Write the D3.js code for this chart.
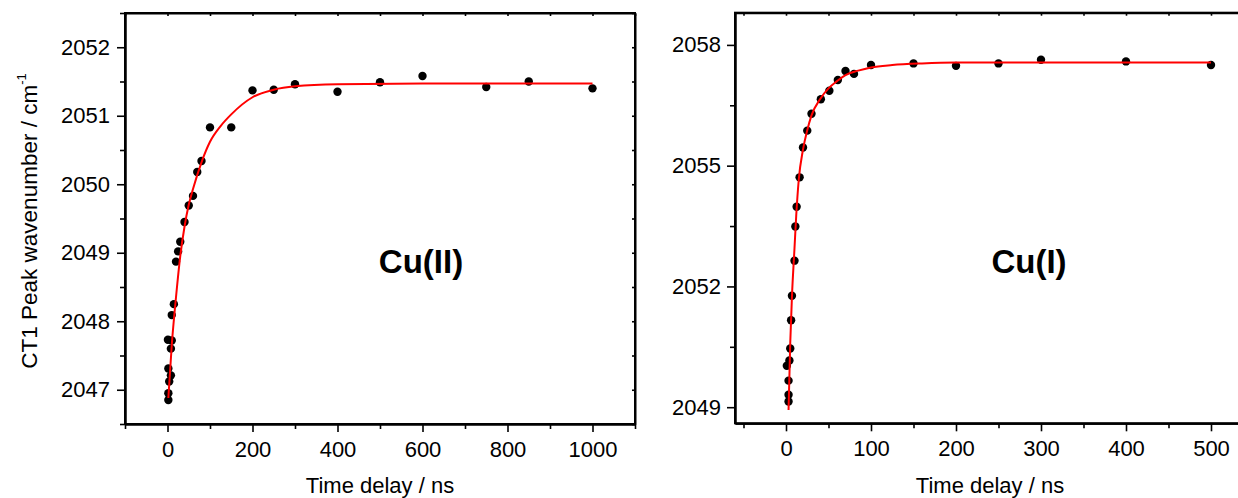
<!DOCTYPE html>
<html>
<head>
<meta charset="utf-8">
<script src="https://cdn.jsdelivr.net/npm/d3@7"></script>
<style>
  body { margin: 0; background: #fff; }
  svg { display: block; font-family: "Liberation Sans", Arial, sans-serif; }
  .axis path, .axis line { stroke: #000; }
</style>
</head>
<body>
<svg width="1238" height="498"></svg>
<script>
// Cu(II) panel
var leftTimes = [2, 2, 4, 8, 2, 1, 10, 8, 10, 15, 20, 25, 30, 40, 50, 60, 70, 80, 100, 150, 200, 250, 300, 400, 500, 600, 750, 850, 1000];
var leftPeaks = [2046.85, 2046.95, 2047.12, 2047.21, 2047.31, 2047.73, 2047.72, 2047.60, 2048.09, 2048.25, 2048.87, 2049.02, 2049.16, 2049.45, 2049.69, 2049.83, 2050.18, 2050.34, 2050.83, 2050.83, 2051.37, 2051.38, 2051.46, 2051.35, 2051.49, 2051.58, 2051.42, 2051.50, 2051.40];
var leftFitTimes = [2, 10, 20, 30, 40, 50, 60, 80, 100, 125, 150, 200, 250, 300, 400, 600, 1000];
var leftFitPeaks = [2046.88, 2047.65, 2048.35, 2048.95, 2049.38, 2049.70, 2049.93, 2050.32, 2050.62, 2050.85, 2051.02, 2051.27, 2051.38, 2051.43, 2051.46, 2051.47, 2051.47];
var leftXTicks = [0, 200, 400, 600, 800, 1000];
var leftXMinor = [-100, 100, 300, 500, 700, 900, 1100];
var leftYTicks = [2047, 2048, 2049, 2050, 2051, 2052];
var leftYMinor = [2046.5, 2047.5, 2048.5, 2049.5, 2050.5, 2051.5, 2052.5];

// Cu(I) panel
var rightTimes = [3, 3, 3, 1, 4, 5, 6, 7, 10, 11, 12.5, 16, 20, 25, 30, 41, 51, 61, 70, 80, 100, 150, 200, 250, 300, 400, 500];
var rightPeaks = [2049.14, 2049.31, 2049.66, 2050.03, 2050.16, 2050.46, 2051.16, 2051.77, 2052.64, 2053.49, 2053.98, 2054.71, 2055.45, 2055.87, 2056.29, 2056.65, 2056.86, 2057.13, 2057.35, 2057.28, 2057.50, 2057.54, 2057.48, 2057.54, 2057.63, 2057.59, 2057.50];
var rightFitTimes = [3, 5, 7, 10, 12, 15, 20, 25, 30, 40, 50, 60, 70, 85, 100, 125, 160, 200, 500];
var rightFitPeaks = [2048.93, 2050.6, 2051.75, 2052.95, 2053.75, 2054.65, 2055.4, 2055.88, 2056.25, 2056.65, 2056.92, 2057.1, 2057.25, 2057.36, 2057.44, 2057.50, 2057.54, 2057.56, 2057.56];
var rightXTicks = [0, 100, 200, 300, 400, 500];
var rightXMinor = [-50, 50, 150, 250, 350, 450];
var rightXTop = [-50, 0, 50, 100, 150, 200, 250, 300, 350, 400, 450, 500];
var rightYTicks = [2049, 2052, 2055, 2058];
var rightYMinor = [2050.5, 2053.5, 2056.5];

var svg = d3.select("svg");
var FONT = "'Liberation Sans', Arial, sans-serif";

function panel(p) {
	var x = d3.scaleLinear().domain(p.xDomain).range([p.left, p.right]);
	var y = d3.scaleLinear().domain(p.yDomain).range([p.bottom, p.top]);
	var g = svg.append("g");

	// inward ticks on top and right
	g.append("g").attr("class", "axis").attr("transform", "translate(0," + p.top + ")")
		.call(d3.axisBottom(x).tickValues(p.xTop).tickSize(3).tickSizeOuter(0).tickFormat(""));
	g.append("g").attr("class", "axis").attr("transform", "translate(" + p.right + ",0)")
		.call(d3.axisLeft(y).tickValues(p.yTicks.concat(p.yMinor)).tickSize(3).tickSizeOuter(0).tickFormat(""));

	// bottom axis
	g.append("g").attr("class", "axis").attr("transform", "translate(0," + p.bottom + ")")
		.call(d3.axisBottom(x).tickValues(p.xMinor).tickSize(5).tickSizeOuter(0).tickFormat(""));
	g.append("g").attr("class", "axis").attr("transform", "translate(0," + p.bottom + ")")
		.call(d3.axisBottom(x).tickValues(p.xTicks).tickSize(8).tickSizeOuter(0).tickPadding(9).tickFormat(d3.format("d")));
	// left axis
	g.append("g").attr("class", "axis").attr("transform", "translate(" + p.left + ",0)")
		.call(d3.axisLeft(y).tickValues(p.yMinor).tickSize(5).tickSizeOuter(0).tickFormat(""));
	g.append("g").attr("class", "axis").attr("transform", "translate(" + p.left + ",0)")
		.call(d3.axisLeft(y).tickValues(p.yTicks).tickSize(8).tickSizeOuter(0).tickPadding(p.yPad).tickFormat(d3.format("d")));

	g.selectAll(".axis").attr("font-family", FONT).attr("font-size", 22);
	g.selectAll(".axis text").attr("fill", "#000");
	g.selectAll(".axis line").attr("stroke-width", 1.6);
	g.selectAll(".axis path").attr("stroke-width", 2);

	// frame
	g.append("rect")
		.attr("x", p.left).attr("y", p.top)
		.attr("width", p.right - p.left).attr("height", p.bottom - p.top)
		.attr("fill", "none").attr("stroke", "#000").attr("stroke-width", 2);

	var pts = p.times.map(function(t, i) { return [t, p.peaks[i]]; });
	g.append("g").selectAll("circle")
		.data(pts)
		.enter().append("circle")
			.attr("cx", function(d) { return x(d[0]); })
			.attr("cy", function(d) { return y(d[1]); })
			.attr("r", 4.2)
			.attr("fill", "#000");

	var fit = p.fitTimes.map(function(t, i) { return [t, p.fitPeaks[i]]; });
	g.append("path")
		.datum(fit)
		.attr("fill", "none")
		.attr("stroke", "#ff0000")
		.attr("stroke-width", 2)
		.attr("d", d3.line()
			.x(function(d) { return x(d[0]); })
			.y(function(d) { return y(d[1]); })
			.curve(d3.curveMonotoneX));

	g.append("text")
		.attr("x", (p.left + p.right) / 2).attr("y", 493)
		.attr("text-anchor", "middle")
		.style("font-size", "22px")
		.text("Time delay / ns");

	g.append("text")
		.attr("x", p.labelX).attr("y", 273)
		.attr("text-anchor", "middle")
		.style("font-size", "33px").style("font-weight", "bold")
		.text(p.label);
}

panel({
	left: 125, right: 635, top: 13, bottom: 424,
	xDomain: [-100, 1100], yDomain: [2046.5, 2052.5],
	times: leftTimes, peaks: leftPeaks, fitTimes: leftFitTimes, fitPeaks: leftFitPeaks,
	xTicks: leftXTicks, xMinor: leftXMinor, xTop: leftXTicks.concat(leftXMinor),
	yTicks: leftYTicks, yMinor: leftYMinor, yPad: 7,
	label: "Cu(II)", labelX: 421
});

panel({
	left: 735, right: 1245, top: 12.7, bottom: 423.3,
	xDomain: [-60, 540], yDomain: [2048.6, 2058.8],
	times: rightTimes, peaks: rightPeaks, fitTimes: rightFitTimes, fitPeaks: rightFitPeaks,
	xTicks: rightXTicks, xMinor: rightXMinor, xTop: rightXTop,
	yTicks: rightYTicks, yMinor: rightYMinor, yPad: 6,
	label: "Cu(I)", labelX: 1029
});

// y axis title
var yt = svg.append("text")
	.attr("transform", "translate(37,221) rotate(-90)")
	.attr("text-anchor", "middle")
	.style("font-size", "22.5px");
yt.append("tspan").text("CT1 Peak wavenumber / cm");
yt.append("tspan").attr("dy", -11).style("font-size", "13px").text("-1");
</script>
</body>
</html>
